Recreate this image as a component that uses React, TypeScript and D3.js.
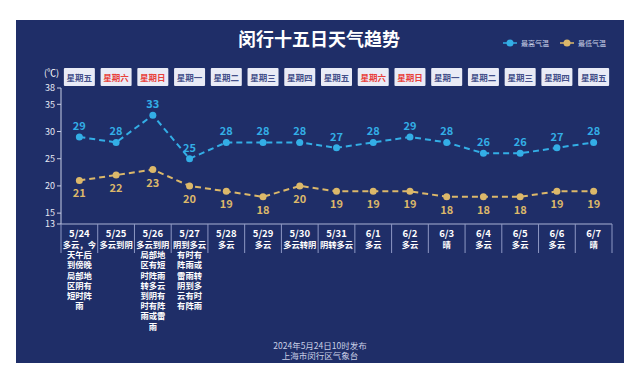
import React from "react";
import * as d3 from "d3";

const dates = ["5/24","5/25","5/26","5/27","5/28","5/29","5/30","5/31","6/1","6/2","6/3","6/4","6/5","6/6","6/7"];
const weekdays = ["星期五","星期六","星期日","星期一","星期二","星期三","星期四","星期五","星期六","星期日","星期一","星期二","星期三","星期四","星期五"];
const highTemps = [29,28,33,25,28,28,28,27,28,29,28,26,26,27,28];
const lowTemps = [21,22,23,20,19,18,20,19,19,19,18,18,18,19,19];
const weatherLines: string[][] = [
  ["多云，今","天午后","到傍晚","局部地","区阴有","短时阵","雨"],
  ["多云到阴"],
  ["多云到阴","局部地","区有短","时阵雨","转多云","到阴有","时有阵","雨或雷","雨"],
  ["阴到多云","有时有","阵雨或","雷雨转","阴到多","云有时","有阵雨"],
  ["多云"],["多云"],["多云转阴"],["阴转多云"],["多云"],["多云"],["晴"],["多云"],["多云"],["多云"],["晴"],
];
const yTicks = [13,15,20,25,30,35,38];
const legendItems = ["最高气温","最低气温"];
const title = "闵行十五日天气趋势";
const footer = ["2024年5月24日10时发布","上海市闵行区气象台"];

const BG = "#1f2e68";
const HIGH = "#33aee6";
const LOW = "#dcb86a";
const FONT = "'Noto Sans CJK SC', 'Noto Sans', sans-serif";

export default function App() {
  const W = 640, H = 378;
  const x = d3.scaleBand<string>().domain(dates).range([61, 612]);
  const y = d3.scaleLinear().domain([13, 38]).range([224, 88]);
  const cx = (d: string) => (x(d) as number) + x.bandwidth() / 2;
  const line = d3.line<number>().x((_, i) => cx(dates[i])).y(v => y(v));
  const isWeekend = (w: string) => w === "星期六" || w === "星期日";
  return (
    <svg width={W} height={H} style={{ position: "absolute", left: 0, top: 0, background: "#fff" }} fontFamily={FONT}>
      <rect x={16} y={20} width={608} height={343} fill={BG} />
      <text x={319} y={46} textAnchor="middle" fill="#fff" fontSize={18} fontWeight="bold">{title}</text>
      {legendItems.map((t, i) => {
        const lx = 503 + i * 57;
        const c = i === 0 ? HIGH : LOW;
        return (
          <g key={t}>
            <line x1={lx} x2={lx + 14} y1={43} y2={43} stroke={c} strokeWidth={1.5} />
            <circle cx={lx + 7} cy={43} r={3.5} fill={c} />
            <text x={lx + 18} y={45.5} fill="#c9cfe6" fontSize={7}>{t}</text>
          </g>
        );
      })}
      <text x={44} y={76} fill="#fff" fontSize={9}>(℃)</text>
      {weekdays.map((w, i) => (
        <g key={i}>
          <rect x={cx(dates[i]) - 15.5} y={68} width={31} height={18} fill="#e9ebf6" rx={1} />
          <text x={cx(dates[i])} y={80.5} textAnchor="middle" fontSize={8.5} fontWeight="bold" fill={isWeekend(w) ? "#e8413b" : "#44508a"}>{w}</text>
        </g>
      ))}
      <line x1={61} x2={61} y1={y(38)} y2={y(13)} stroke="#c9cfe6" strokeWidth={1} />
      {yTicks.map(t => (
        <g key={t}>
          <line x1={57} x2={61} y1={y(t)} y2={y(t)} stroke="#c9cfe6" strokeWidth={1} />
          <text x={55} y={y(t) + 3.2} textAnchor="end" fill="#e6e9f5" fontSize={9}>{t}</text>
        </g>
      ))}
      <line x1={61} x2={612} y1={224} y2={224} stroke="#aab2d4" strokeWidth={1} />
      {dates.map((d, i) => (
        <line key={"v" + i} x1={x(d) as number} x2={x(d) as number} y1={224} y2={253} stroke="#8e98c4" strokeWidth={1} />
      ))}
      <line x1={612} x2={612} y1={224} y2={253} stroke="#8e98c4" strokeWidth={1} />
      <path d={line(highTemps) || ""} fill="none" stroke={HIGH} strokeWidth={2} strokeDasharray="6,4" />
      <path d={line(lowTemps) || ""} fill="none" stroke={LOW} strokeWidth={2} strokeDasharray="6,4" />
      {highTemps.map((v, i) => (
        <g key={"h" + i}>
          <circle cx={cx(dates[i])} cy={y(v)} r={3.5} fill={HIGH} />
          <text x={cx(dates[i])} y={y(v) - 7} textAnchor="middle" fill={HIGH} fontSize={11} fontWeight="bold">{v}</text>
        </g>
      ))}
      {lowTemps.map((v, i) => (
        <g key={"l" + i}>
          <circle cx={cx(dates[i])} cy={y(v)} r={3.5} fill={LOW} />
          <text x={cx(dates[i])} y={y(v) + 17} textAnchor="middle" fill={LOW} fontSize={11} fontWeight="bold">{v}</text>
        </g>
      ))}
      {dates.map((d, i) => (
        <g key={"d" + i}>
          <text x={cx(d)} y={237} textAnchor="middle" fill="#fff" fontSize={9.5} fontWeight="bold">{d}</text>
          {weatherLines[i].map((l, j) => (
            <text key={j} x={cx(d)} y={248 + j * 10.2} textAnchor="middle" fill="#fff" fontSize={8.3} fontWeight="bold">{l}</text>
          ))}
        </g>
      ))}
      <text x={320} y={349} textAnchor="middle" fill="#c9cfe6" fontSize={8.5}>{footer[0]}</text>
      <text x={320} y={359} textAnchor="middle" fill="#c9cfe6" fontSize={8.5}>{footer[1]}</text>
    </svg>
  );
}
